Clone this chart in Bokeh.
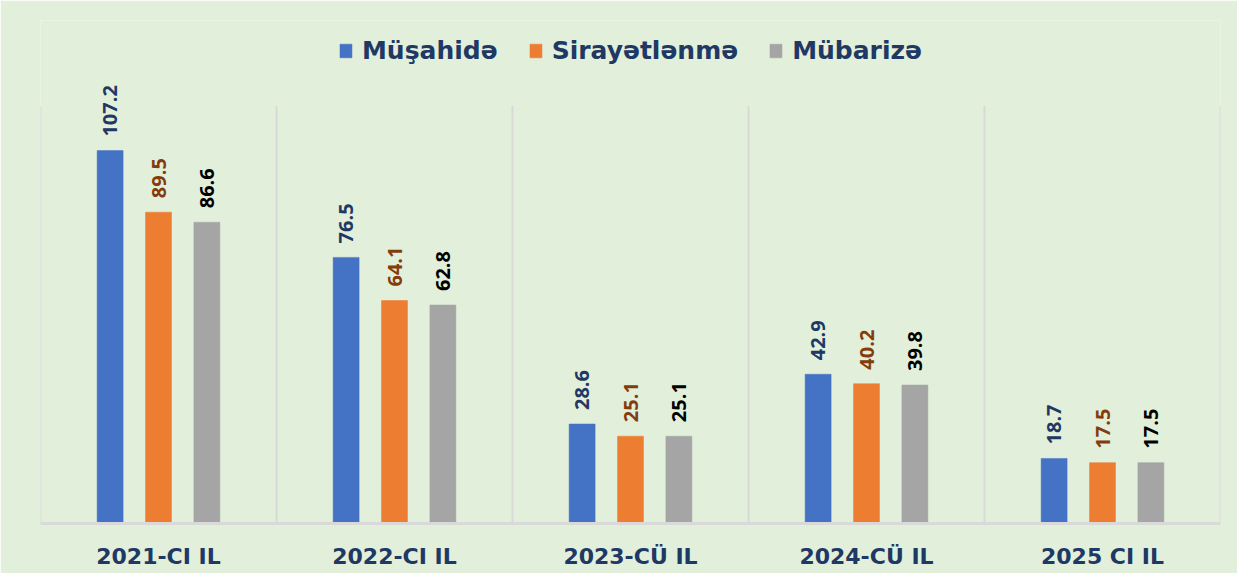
import math
from bokeh.plotting import figure
from bokeh.models import ColumnDataSource, FactorRange, Range1d, Legend, LegendItem
from bokeh.transform import dodge
from bokeh.core.properties import value
from bokeh.embed import file_html
from bokeh.resources import INLINE

categories = ["2021-CI IL", "2022-CI IL", "2023-CÜ IL", "2024-CÜ IL", "2025 CI IL"]
musahide = [107.2, 76.5, 28.6, 42.9, 18.7]
sirayetlenme = [89.5, 64.1, 25.1, 40.2, 17.5]
mubarize = [86.6, 62.8, 25.1, 39.8, 17.5]
series_names = ["Müşahidə", "Sirayətlənmə", "Mübarizə"]
grid_top = 120

BG = "#E2EFDA"
NAVY = "#203864"
GRID = "#D9D9D9"
bar_colors = ["#4472C4", "#ED7D31", "#A5A5A5"]
label_colors = ["#203864", "#843C0C", "#000000"]
offsets = [-0.205, 0.0, 0.205]

src = ColumnDataSource(dict(
    cat=categories,
    musahide=musahide,
    sirayetlenme=sirayetlenme,
    mubarize=mubarize,
    musahide_t=[f"{v:.1f}" for v in musahide],
    sirayetlenme_t=[f"{v:.1f}" for v in sirayetlenme],
    mubarize_t=[f"{v:.1f}" for v in mubarize],
    zero=[0] * len(categories),
    top=[grid_top] * len(categories),
))
edge_src = ColumnDataSource(dict(cat=[categories[-1]], zero=[0], top=[grid_top]))

p = figure(
    x_range=FactorRange(*categories, range_padding=0),
    y_range=Range1d(0, 144.6),
    frame_width=1180, frame_height=503,
    min_border_left=40, min_border_right=17,
    min_border_top=20, min_border_bottom=50,
    output_backend="svg", toolbar_location=None,
    background_fill_color=BG, border_fill_color=BG,
    outline_line_color=None,
)
p.xgrid.visible = False
p.ygrid.visible = False
p.yaxis.visible = False

# vertical separators between categories
p.segment(x0=dodge("cat", -0.5, range=p.x_range), y0="zero",
          x1=dodge("cat", -0.5, range=p.x_range), y1="top",
          source=src, line_color=GRID, line_width=2)
p.segment(x0=dodge("cat", 0.5, range=p.x_range), y0="zero",
          x1=dodge("cat", 0.5, range=p.x_range), y1="top",
          source=edge_src, line_color=GRID, line_width=2)

fields = ["musahide", "sirayetlenme", "mubarize"]
items = []
for f, name, col, lcol, off in zip(fields, series_names, bar_colors, label_colors, offsets):
    r = p.vbar(x=dodge("cat", off, range=p.x_range), top=f, width=0.11, source=src,
               fill_color=col, line_color=col, line_width=0.5)
    items.append(LegendItem(label=name, renderers=[r]))
    p.text(x=dodge("cat", off, range=p.x_range), y=f, text=f + "_t", source=src,
           angle=math.pi / 2, text_align="left", text_baseline="middle",
           y_offset=-14, text_color=lcol, text_font=value("Open Sans"),
           text_font_style="bold", text_font_size="20px")

legend = Legend(items=items, location="top_center", orientation="horizontal",
                background_fill_alpha=0, border_line_color=None,
                label_text_font="DejaVu Sans", label_text_font_style="bold",
                label_text_font_size="25px", label_text_color=NAVY,
                glyph_width=15, glyph_height=17, label_standoff=9,
                spacing=30, margin=16, padding=0)
p.add_layout(legend)

ax = p.xaxis[0]
ax.axis_line_color = GRID
ax.axis_line_width = 3
ax.major_tick_line_color = None
ax.minor_tick_line_color = None
ax.major_label_text_font = "DejaVu Sans"
ax.major_label_text_font_style = "bold"
ax.major_label_text_font_size = "22px"
ax.major_label_text_color = NAVY
ax.major_label_standoff = 14

open("out.html", "w").write(file_html(p, INLINE))
